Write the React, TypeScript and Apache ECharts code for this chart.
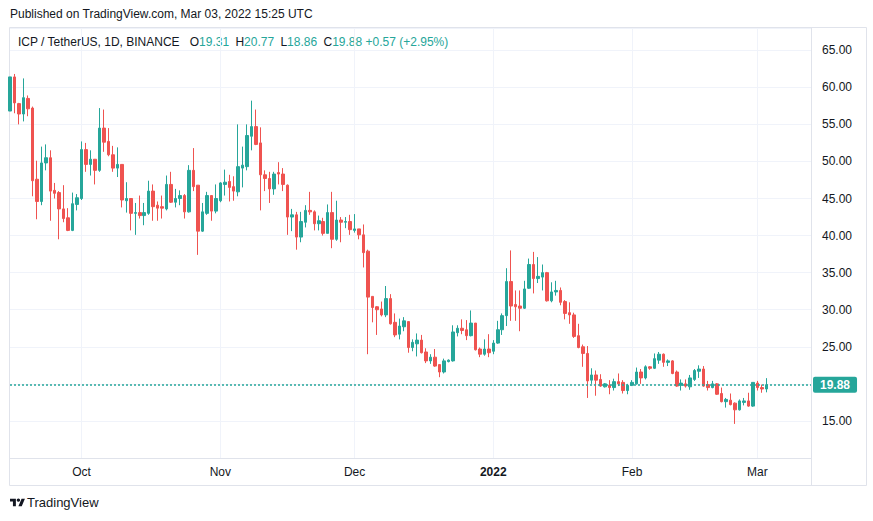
import React, { useEffect, useRef } from 'react';
import * as echarts from 'echarts';

// ---- data (ICP / TetherUS, 1D, BINANCE) ----
const firstDay = '2021-09-15';
const futureDays = 10; // empty space to the right of the last candle

const opens = [
  56.8, 61.4, 57.8, 56.4, 58.5, 57.2, 47.6, 44.6, 49.8, 50.5,
  46.1, 45.8, 43.6, 42.4, 40.7, 44.2, 45.0, 51.6, 49.6, 50.3,
  48.8, 54.5, 52.7, 50.9, 49.1, 49.6, 44.7, 45.0, 43.0, 43.1,
  42.7, 43.0, 46.0, 44.1, 43.9, 43.6, 46.9, 44.5, 45.0, 45.4,
  43.2, 48.8, 46.8, 40.6, 43.0, 45.4, 43.3, 44.7, 46.9, 47.3,
  46.6, 45.9, 49.1, 49.3, 53.4, 54.7, 52.5, 48.2, 47.7, 46.3,
  48.5, 48.3, 46.8, 42.5, 42.8, 39.8, 41.8, 43.4, 43.2, 41.6,
  41.9, 40.3, 43.1, 39.5, 42.1, 41.8, 41.9, 40.7, 40.9, 40.1,
  37.9, 31.8, 30.4, 30.1, 29.3, 31.5, 28.3, 26.7, 27.7, 28.4,
  24.9, 25.4, 25.9, 24.3, 23.1, 23.6, 22.6, 21.6, 23.0, 23.1,
  26.9, 27.5, 27.3, 26.5, 28.2, 24.7, 24.0, 24.7, 24.4, 25.5,
  27.3, 29.2, 33.8, 30.7, 30.5, 30.2, 32.9, 36.1, 34.2, 34.4,
  35.0, 31.2, 32.4, 32.6, 31.1, 29.6, 29.3, 26.5, 25.0, 24.1,
  20.5, 21.2, 20.6, 19.6, 19.8, 19.5, 20.3, 20.2, 19.1, 19.8,
  20.0, 21.6, 20.8, 22.3, 22.1, 23.2, 24.0, 22.9, 23.1, 21.6,
  19.8, 20.0, 19.6, 20.6, 21.7, 22.0, 19.9, 19.5, 20.0, 18.7,
  17.6, 17.8, 17.4, 16.5, 17.5, 17.7, 17.0, 20.1, 19.5, 19.31,
];
const closes = [
  61.4, 57.9, 56.4, 58.6, 57.1, 47.4, 44.6, 49.8, 50.5, 46.0,
  45.7, 43.6, 42.3, 40.7, 44.3, 45.1, 51.6, 49.6, 50.3, 48.8,
  54.5, 52.6, 50.9, 49.1, 49.6, 44.8, 45.0, 43.0, 43.1, 42.7,
  43.1, 46.0, 43.9, 43.7, 43.7, 46.9, 44.5, 45.0, 45.4, 43.2,
  48.8, 46.6, 40.6, 43.2, 45.4, 43.3, 45.0, 47.1, 47.2, 46.5,
  46.0, 49.3, 49.5, 53.5, 54.7, 52.3, 48.2, 47.7, 46.3, 48.3,
  48.3, 46.9, 42.5, 42.8, 39.8, 41.9, 43.4, 43.2, 41.6, 42.0,
  40.3, 43.1, 39.5, 42.1, 41.8, 41.9, 40.8, 40.9, 40.1, 37.7,
  31.7, 30.3, 30.0, 29.3, 31.5, 28.1, 26.6, 27.8, 28.5, 24.9,
  25.6, 25.9, 24.2, 23.1, 23.6, 22.4, 21.6, 23.1, 23.2, 27.0,
  27.5, 27.2, 26.5, 28.2, 24.6, 24.0, 24.7, 24.2, 25.5, 27.3,
  29.2, 33.8, 30.5, 30.4, 30.2, 32.8, 36.1, 34.2, 34.5, 35.0,
  31.2, 32.4, 32.6, 31.0, 29.5, 29.3, 26.4, 24.9, 24.1, 20.4,
  21.2, 20.5, 19.7, 20.0, 19.5, 20.3, 20.0, 19.1, 19.8, 20.2,
  21.6, 20.8, 22.3, 22.1, 23.4, 24.0, 22.9, 23.1, 21.4, 19.7,
  20.1, 19.7, 20.8, 21.8, 22.0, 19.7, 19.5, 20.0, 18.6, 17.6,
  17.9, 17.2, 16.5, 17.7, 17.7, 17.0, 20.2, 19.5, 19.31, 19.88,
];
const lows = [
  56.8, 56.5, 55.0, 55.4, 56.1, 45.3, 42.2, 44.1, 48.8, 42.0,
  45.0, 39.5, 41.8, 40.6, 40.6, 43.4, 44.8, 48.6, 48.1, 46.9,
  48.6, 51.3, 50.7, 48.6, 47.9, 43.8, 43.1, 40.7, 40.1, 42.3,
  41.4, 42.8, 42.0, 42.0, 42.3, 43.4, 44.4, 43.8, 44.1, 42.3,
  43.1, 46.0, 37.4, 40.5, 42.8, 42.0, 43.0, 44.5, 45.4, 44.6,
  44.7, 45.3, 46.5, 48.8, 51.5, 52.2, 43.4, 46.0, 44.4, 45.5,
  46.9, 46.0, 40.1, 40.6, 38.1, 39.1, 41.1, 42.8, 40.7, 40.7,
  40.0, 40.3, 38.3, 39.3, 39.1, 41.0, 40.1, 40.4, 39.5, 35.7,
  24.0, 28.3, 26.6, 29.1, 29.0, 28.0, 26.3, 26.0, 27.1, 24.2,
  24.4, 23.7, 24.1, 22.8, 22.7, 22.3, 20.9, 21.4, 22.9, 23.0,
  26.4, 26.7, 25.9, 26.4, 24.5, 23.6, 23.8, 23.6, 24.0, 25.4,
  26.6, 27.8, 28.5, 28.5, 27.1, 30.1, 32.8, 32.2, 33.6, 32.6,
  31.1, 31.0, 31.9, 30.6, 28.7, 28.1, 26.2, 24.8, 22.3, 18.1,
  20.0, 18.4, 19.6, 19.5, 18.6, 19.1, 19.7, 18.7, 18.6, 19.7,
  19.9, 20.0, 20.6, 21.9, 22.0, 22.7, 22.3, 22.4, 21.3, 19.6,
  19.1, 19.5, 19.2, 20.4, 20.8, 19.6, 19.1, 19.4, 18.5, 17.5,
  16.8, 17.1, 14.6, 16.4, 17.1, 16.9, 16.9, 19.1, 18.8, 18.86,
];
const highs = [
  61.4, 61.8, 57.9, 61.2, 58.9, 57.4, 50.1, 52.0, 52.3, 51.5,
  47.1, 46.0, 46.8, 43.7, 45.8, 45.6, 52.7, 52.5, 51.5, 50.3,
  57.2, 57.0, 54.5, 52.1, 51.9, 49.6, 47.2, 45.0, 44.4, 45.4,
  44.4, 47.4, 46.9, 44.6, 45.4, 48.1, 48.6, 46.3, 46.1, 45.6,
  49.5, 51.8, 46.8, 44.4, 45.9, 45.4, 46.9, 47.2, 48.9, 48.2,
  48.0, 55.0, 52.0, 55.0, 58.2, 57.0, 54.6, 48.8, 48.6, 48.6,
  49.9, 49.1, 46.9, 43.6, 43.2, 43.2, 44.1, 45.9, 43.4, 42.7,
  42.4, 44.2, 45.9, 44.7, 42.5, 42.5, 42.8, 42.9, 40.9, 41.5,
  38.1, 31.8, 30.5, 31.1, 33.2, 32.1, 29.5, 28.8, 29.0, 28.4,
  26.0, 26.8, 26.6, 24.8, 24.0, 24.7, 22.6, 23.4, 23.3, 27.9,
  27.9, 28.7, 28.6, 29.9, 28.2, 24.9, 26.0, 26.7, 25.9, 28.5,
  29.5, 35.6, 38.0, 32.6, 32.6, 33.9, 36.9, 37.8, 37.1, 36.1,
  35.1, 33.7, 33.9, 33.0, 31.3, 31.0, 29.6, 28.1, 25.3, 25.1,
  22.1, 21.8, 21.3, 20.1, 20.5, 20.7, 21.4, 20.5, 20.0, 20.5,
  22.2, 22.0, 22.5, 22.4, 24.1, 24.3, 24.1, 23.3, 23.2, 21.8,
  20.6, 20.6, 21.2, 22.0, 22.5, 22.4, 20.4, 20.4, 20.1, 19.5,
  18.1, 18.7, 17.5, 17.9, 18.1, 18.8, 20.2, 20.4, 19.9, 20.77,
];

const tickDates = ['2021-10-01', '2021-11-01', '2021-12-01', '2022-01-01', '2022-02-01', '2022-03-01'];
const tickLabels = ['Oct', 'Nov', 'Dec', '2022', 'Feb', 'Mar'];
const yearTicks = ['2022'];
const priceTicks = [15, 20, 25, 30, 35, 40, 45, 50, 55, 60, 65];

const UP = '#26a69a';
const DOWN = '#ef5350';
const TEXT = '#131722';
const FONT = '"Liberation Sans", Arial, sans-serif';

function buildDates(): string[] {
  const out: string[] = [];
  const start = new Date(firstDay + 'T00:00:00Z').getTime();
  const n = opens.length + futureDays;
  for (let i = 0; i < n; i++) {
    out.push(new Date(start + i * 86400000).toISOString().slice(0, 10));
  }
  return out;
}

export default function App() {
  const ref = useRef<HTMLDivElement>(null);

  useEffect(() => {
    if (!ref.current) return;
    echarts.graphic.registerShape(
      'tvlogo',
      echarts.graphic.extendPath('M14 22H7V11H0V4h14v18zM28 22h-8l7.5-18h8L28 22z', {}) as any
    );
    const chart = echarts.init(ref.current, undefined, { renderer: 'svg' });

    const dates = buildDates();
    const tickIdx = new Set(tickDates.map((d) => dates.indexOf(d)));
    const candle = opens.map((o, i) => [o, closes[i], lows[i], highs[i]]);
    const last = opens.length - 1;
    const lastClose = closes[last];
    const chg = closes[last] - closes[last - 1];
    const pct = (chg / closes[last - 1]) * 100;
    const sign = chg >= 0 ? '+' : '';
    const lastLine = { color: UP, type: [2, 2], width: 1.5, opacity: 1 };

    const option: any = {
      animation: false,
      backgroundColor: '#ffffff',
      color: [UP],
      textStyle: { fontFamily: FONT },
      grid: { left: 10, right: 62, top: 28, bottom: 63, containLabel: false },
      xAxis: {
        type: 'category',
        data: dates,
        boundaryGap: false,
        axisLine: { show: true, lineStyle: { color: '#e0e3eb' } },
        axisTick: { show: false },
        axisLabel: {
          interval: (i: number) => tickIdx.has(i),
          formatter: (v: string) => {
            const k = tickDates.indexOf(v);
            if (k < 0) return '';
            const lab = tickLabels[k];
            return yearTicks.includes(lab) ? '{b|' + lab + '}' : lab;
          },
          color: TEXT,
          fontSize: 12,
          fontFamily: FONT,
          margin: 8,
          rich: { b: { fontWeight: 'bold', color: TEXT, fontSize: 12, fontFamily: FONT } },
        },
        splitLine: {
          show: true,
          interval: (i: number) => tickIdx.has(i),
          lineStyle: { color: '#f0f3fa', width: 1 },
        },
      },
      yAxis: {
        type: 'value',
        position: 'right',
        min: 10,
        max: 68,
        interval: 5,
        axisLine: { show: true, lineStyle: { color: '#e0e3eb' } },
        axisTick: { show: false },
        axisLabel: {
          // a tick label that the last-price box covers is not drawn
          formatter: (v: number) =>
            priceTicks.includes(v) && Math.abs(v - lastClose) > 1.5 ? v.toFixed(2) : '',
          color: TEXT,
          fontSize: 12,
          fontFamily: FONT,
          margin: 11,
          showMinLabel: false,
          showMaxLabel: false,
        },
        splitLine: { show: true, lineStyle: { color: '#f0f3fa', width: 1 } },
      },
      series: [
        {
          type: 'candlestick',
          data: candle,
          barWidth: 3,
          clip: true,
          itemStyle: { color: UP, color0: DOWN, borderColor: UP, borderColor0: DOWN, borderWidth: 1 },
        },
        {
          // last-price line
          type: 'line',
          data: [],
          color: UP,
          silent: true,
          markLine: {
            silent: true,
            symbol: ['none', 'none'],
            data: [{ yAxis: lastClose }],
            lineStyle: lastLine,
            emphasis: { disabled: true },
            label: {
              show: true,
              position: 'end',
              distance: 2,
              formatter: lastClose.toFixed(2),
              color: '#ffffff',
              backgroundColor: UP,
              fontWeight: 'bold',
              fontSize: 12,
              fontFamily: FONT,
              padding: [2, 7, 2, 7],
              borderRadius: 2,
            },
          },
        },
      ],
      graphic: [
        {
          type: 'rect',
          silent: true,
          shape: { x: 9.5, y: 27.5, width: 857, height: 458 },
          style: { fill: 'none', stroke: '#e0e3eb', lineWidth: 1 },
        },
        {
          type: 'line',
          silent: true,
          shape: { x1: 811.5, y1: 28, x2: 811.5, y2: 485 },
          style: { stroke: '#e0e3eb', lineWidth: 1 },
        },
        {
          type: 'text',
          left: 10,
          top: 8,
          style: {
            text: 'Published on TradingView.com, Mar 03, 2022 15:25 UTC',
            fill: TEXT,
            fontSize: 12,
            fontFamily: FONT,
          },
        },
        {
          type: 'text',
          left: 18,
          top: 36,
          style: {
            text:
              '{n|ICP / TetherUS, 1D, BINANCE}  {k|O}{v|' + opens[last].toFixed(2) + '} {k|H}{v|' +
              highs[last].toFixed(2) + '} {k|L}{v|' + lows[last].toFixed(2) + '} {k|C}{v|' +
              closes[last].toFixed(2) + '} {v|' + sign + chg.toFixed(2) + ' (' + sign + pct.toFixed(2) + '%)}',
            fontSize: 12,
            fontFamily: FONT,
            rich: {
              n: { fill: TEXT, fontSize: 12, fontFamily: FONT },
              k: { fill: TEXT, fontSize: 12, fontFamily: FONT, padding: [0, 0, 0, 3] },
              v: { fill: UP, fontSize: 12, fontFamily: FONT },
            },
          },
        },
        {
          type: 'tvlogo',
          x: 10,
          y: 497,
          scaleX: 0.42,
          scaleY: 0.42,
          style: { fill: TEXT },
        },
        {
          type: 'circle',
          shape: { cx: 10 + 20 * 0.42, cy: 497 + 7.5 * 0.42, r: 1.7 },
          style: { fill: TEXT },
        },
        {
          type: 'text',
          left: 27,
          top: 496,
          style: { text: 'TradingView', fill: TEXT, fontSize: 13, fontFamily: FONT },
        },
      ],
    };

    chart.setOption(option);
    return () => chart.dispose();
  }, []);

  return (
    <div
      ref={ref}
      style={{ position: 'fixed', left: 0, top: 0, width: 873, height: 521, background: '#fff' }}
    />
  );
}
